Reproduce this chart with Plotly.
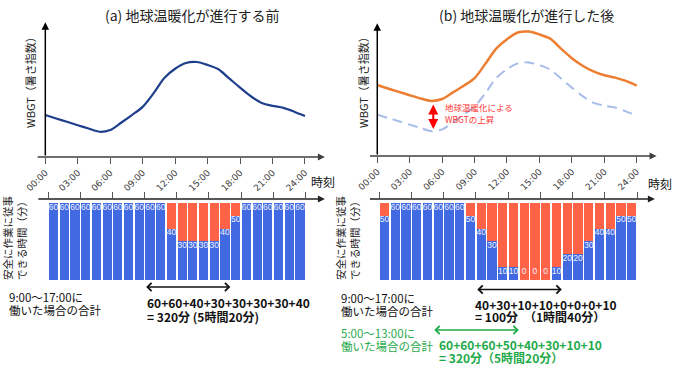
import plotly.graph_objects as go

W, H = 680, 372


def px(x):
    return x / W


def py(y):
    return 1 - y / H


JP = "Noto Sans CJK JP"

# ---------------- data ----------------
hours = list(range(25))
tick_vals = [0, 3, 6, 9, 12, 15, 18, 21, 24]
tick_text = ["00:00", "03:00", "06:00", "09:00", "12:00", "15:00", "18:00", "21:00", "24:00"]

# WBGT (arbitrary index scale)
wbgt_before = [24.36, 24.0, 23.65, 23.3, 22.95, 22.62, 22.8, 23.55, 24.35, 25.2,
               26.6, 28.2, 29.15, 29.75, 29.85, 29.55, 29.1, 28.15, 27.2, 26.3,
               25.6, 25.3, 25.1, 24.7, 24.25]
wbgt_after = [27.47, 27.1, 26.75, 26.4, 26.05, 25.8, 26.0, 26.7, 27.4, 28.2,
              29.7, 31.3, 32.3, 33.0, 33.1, 32.8, 32.35, 31.3, 30.3, 29.5,
              28.9, 28.5, 28.25, 27.9, 27.4]

bar_hours = list(range(24))
minutes_before = [60, 60, 60, 60, 60, 60, 60, 60, 60, 60, 60, 40,
                  30, 30, 30, 30, 40, 50, 60, 60, 60, 60, 60, 60]
minutes_after = [50, 60, 60, 60, 60, 60, 60, 60, 50, 40, 30, 10,
                 10, 0, 0, 0, 10, 20, 20, 30, 40, 40, 50, 50]
MAX_MIN = 60

BLUE = "#4169E1"
RED = "#FF6347"
NAVY = "#1F3E8C"
ORANGE = "#ED7D31"
LIGHTBLUE = "#A7BCE8"
GREEN = "#1FAA4A"

fig = go.Figure()

# ---------------- line charts ----------------
fig.add_trace(go.Scatter(x=hours, y=wbgt_before, mode="lines",
                         line=dict(color=NAVY, width=2.2, shape="spline", smoothing=0.8),
                         xaxis="x", yaxis="y", hoverinfo="skip"))
fig.add_trace(go.Scatter(x=hours, y=wbgt_before, mode="lines",
                         line=dict(color=LIGHTBLUE, width=2, dash="10px,6px",
                                   shape="spline", smoothing=0.8),
                         xaxis="x2", yaxis="y2", hoverinfo="skip"))
fig.add_trace(go.Scatter(x=hours, y=wbgt_after, mode="lines",
                         line=dict(color=ORANGE, width=2.5, shape="spline", smoothing=0.8),
                         xaxis="x2", yaxis="y2", hoverinfo="skip"))

# ---------------- bar charts ----------------
bar_x = [h + 0.5 for h in bar_hours]
for mins, xa, ya in [(minutes_before, "x3", "y3"), (minutes_after, "x4", "y4")]:
    fig.add_trace(go.Bar(x=bar_x, y=mins, marker=dict(color=BLUE, line=dict(width=0)),
                         xaxis=xa, yaxis=ya, hoverinfo="skip"))
    fig.add_trace(go.Bar(x=bar_x, y=[MAX_MIN - m for m in mins],
                         marker=dict(color=RED, line=dict(width=0)),
                         xaxis=xa, yaxis=ya, hoverinfo="skip"))
    fig.add_trace(go.Scatter(x=bar_x, y=[max(m, 10) - 3.5 for m in mins],
                             text=[str(m) for m in mins], mode="text",
                             textposition="middle center",
                             textfont=dict(color="#EEF2FF", size=8.5, family="Liberation Sans"),
                             cliponaxis=False, xaxis=xa, yaxis=ya, hoverinfo="skip"))

xcommon = dict(showgrid=False, zeroline=False, showline=False, tickvals=tick_vals,
               ticks="outside", ticklen=6, tickwidth=1, tickcolor="#555",
               automargin=False)
ycommon = dict(showgrid=False, zeroline=False, showline=False, showticklabels=False,
               ticks="", automargin=False)

fig.update_layout(
    width=W, height=H, margin=dict(l=0, r=0, t=0, b=0, pad=0), autosize=False,
    paper_bgcolor="white", plot_bgcolor="rgba(0,0,0,0)", showlegend=False,
    barmode="stack", bargap=0.14,
    xaxis=dict(domain=[px(36), px(325)], range=[-0.86, 25.85], anchor="y",
               ticktext=tick_text, tickangle=-45,
               tickfont=dict(family="DejaVu Sans", size=9, color="#404040"), **xcommon),
    yaxis=dict(domain=[py(157), py(22)], range=[20, 34], anchor="x", **ycommon),
    xaxis2=dict(domain=[px(368.3), px(656.7)], range=[-0.83, 25.85], anchor="y2",
                ticktext=tick_text, tickangle=-45,
                tickfont=dict(family="DejaVu Sans", size=9, color="#404040"), **xcommon),
    yaxis2=dict(domain=[py(156), py(23)], range=[20, 34], anchor="x2", **ycommon),
    xaxis3=dict(domain=[px(36.7), px(325)], range=[-1.08, 25.84], anchor="y3",
                side="top", showticklabels=False, **xcommon),
    yaxis3=dict(domain=[py(280), py(199)], range=[0, 63.1], anchor="x3", **ycommon),
    xaxis4=dict(domain=[px(368.3), px(655)], range=[-1.0, 25.67], anchor="y4",
                side="top", showticklabels=False, **xcommon),
    yaxis4=dict(domain=[py(280), py(199)], range=[0, 63.1], anchor="x4", **ycommon),
)

ann = []


def axis_arrow(xr, yr, x, y, axv, ayv, color="#222", width=1.5):
    ann.append(dict(xref=xr, yref=yr, axref=xr, ayref=yr, x=x, y=y, ax=axv, ay=ayv,
                    text="", showarrow=True, arrowhead=2, arrowsize=1,
                    arrowwidth=width, arrowcolor=color, standoff=0))


# axes of line charts
axis_arrow("x", "y", 25.84, 20, -0.85, 20, color="#404040", width=1.4)
axis_arrow("x", "y", 0, 33.98, 0, 20, color="black", width=1.5)
axis_arrow("x2", "y2", 25.84, 20, -0.82, 20, color="#404040", width=1.4)
axis_arrow("x2", "y2", 0, 33.98, 0, 20, color="black", width=1.5)
# top axes of bar charts
axis_arrow("x3", "y3", 25.83, 63.05, -1.07, 63.05, color="#222", width=1.4)
axis_arrow("x4", "y4", 25.66, 63.05, -0.99, 63.05, color="#222", width=1.4)


def text(x, y, s, size=12, color="#111", xanchor="left", bold=False, angle=0, family=JP):
    if bold:
        s = "<b>" + s + "</b>"
    ann.append(dict(xref="paper", yref="paper", x=px(x), y=py(y), text=s,
                    showarrow=False, xanchor=xanchor, yanchor="middle", textangle=angle,
                    font=dict(family=family, size=size, color=color)))


# titles
text(192, 15, "(a) 地球温暖化が進行する前", size=14, xanchor="center", color="#222")
text(526, 15, "(b) 地球温暖化が進行した後", size=14, xanchor="center", color="#222")
# y titles
text(30, 80, "WBGT（暑さ指数）", size=11, xanchor="center", angle=-90, color="#222")
text(363, 80, "WBGT（暑さ指数）", size=11, xanchor="center", angle=-90, color="#222")
# bar-panel y titles: two-line vertical text
bar_title = "安全に作業に従事<br>できる時間（分）"
text(14, 238, bar_title, size=10.5, xanchor="center", angle=-90, color="#222")
text(347, 238, bar_title, size=10.5, xanchor="center", angle=-90, color="#222")
# x titles
text(323, 181, "時刻", size=12, xanchor="center")
text(659.5, 183, "時刻", size=12, xanchor="center")

# red rise annotation
ann.append(dict(xref="x2", yref="y2", axref="x2", ayref="y2",
                x=5.18, y=wbgt_before[5], ax=5.18, ay=wbgt_after[5], text="",
                showarrow=True, arrowhead=2, startarrowhead=2, arrowside="end+start",
                arrowsize=1, arrowwidth=2, arrowcolor="#FF0000",
                standoff=2, startstandoff=2))
text(443, 106.5, "地球温暖化による", size=8.5, color="#FF3333")
text(443, 118.5, "WBGTの上昇", size=8.5, color="#FF3333")


def span_arrow(xr, h0, h1, y, color):
    ann.append(dict(xref=xr, yref="paper", axref=xr, ayref="pixel",
                    x=h1, y=py(y), ax=h0, ay=0, text="", showarrow=True,
                    arrowhead=4, startarrowhead=4, arrowside="end+start",
                    arrowsize=1, arrowwidth=1.6, arrowcolor=color,
                    standoff=0, startstandoff=0))


# bottom-left annotations
span_arrow("x3", 9, 17, 287, "#111")
text(7, 297, "9:00～17:00に", size=11.5)
text(7, 310, "働いた場合の合計", size=11.5)
text(145, 302.5, "60+60+40+30+30+30+30+40", size=12, bold=True)
text(145, 316, "= 320分 (5時間20分)", size=12, bold=True)

# bottom-right annotations
span_arrow("x4", 9, 17, 289.5, "#111")
text(339, 298, "9:00～17:00に", size=11.5)
text(339, 311, "働いた場合の合計", size=11.5)
text(473, 304, "40+30+10+10+0+0+0+10", size=12, bold=True)
text(473, 316.5, "= 100分　（1時間40分）", size=12, bold=True)

span_arrow("x4", 5, 13, 330, GREEN)
text(339, 333, "5:00～13:00に", size=11.5, color=GREEN)
text(339, 346, "働いた場合の合計", size=11.5, color=GREEN)
text(437, 344, "60+60+60+50+40+30+10+10", size=12, bold=True, color=GREEN)
text(437, 357.5, "= 320分（5時間20分）", size=12, bold=True, color=GREEN)

fig.update_layout(annotations=ann)

fig.write_html("out.html",
               config={"displayModeBar": False},
               post_script="document.body.style.margin='0';"
                           "document.body.style.overflow='hidden';")
